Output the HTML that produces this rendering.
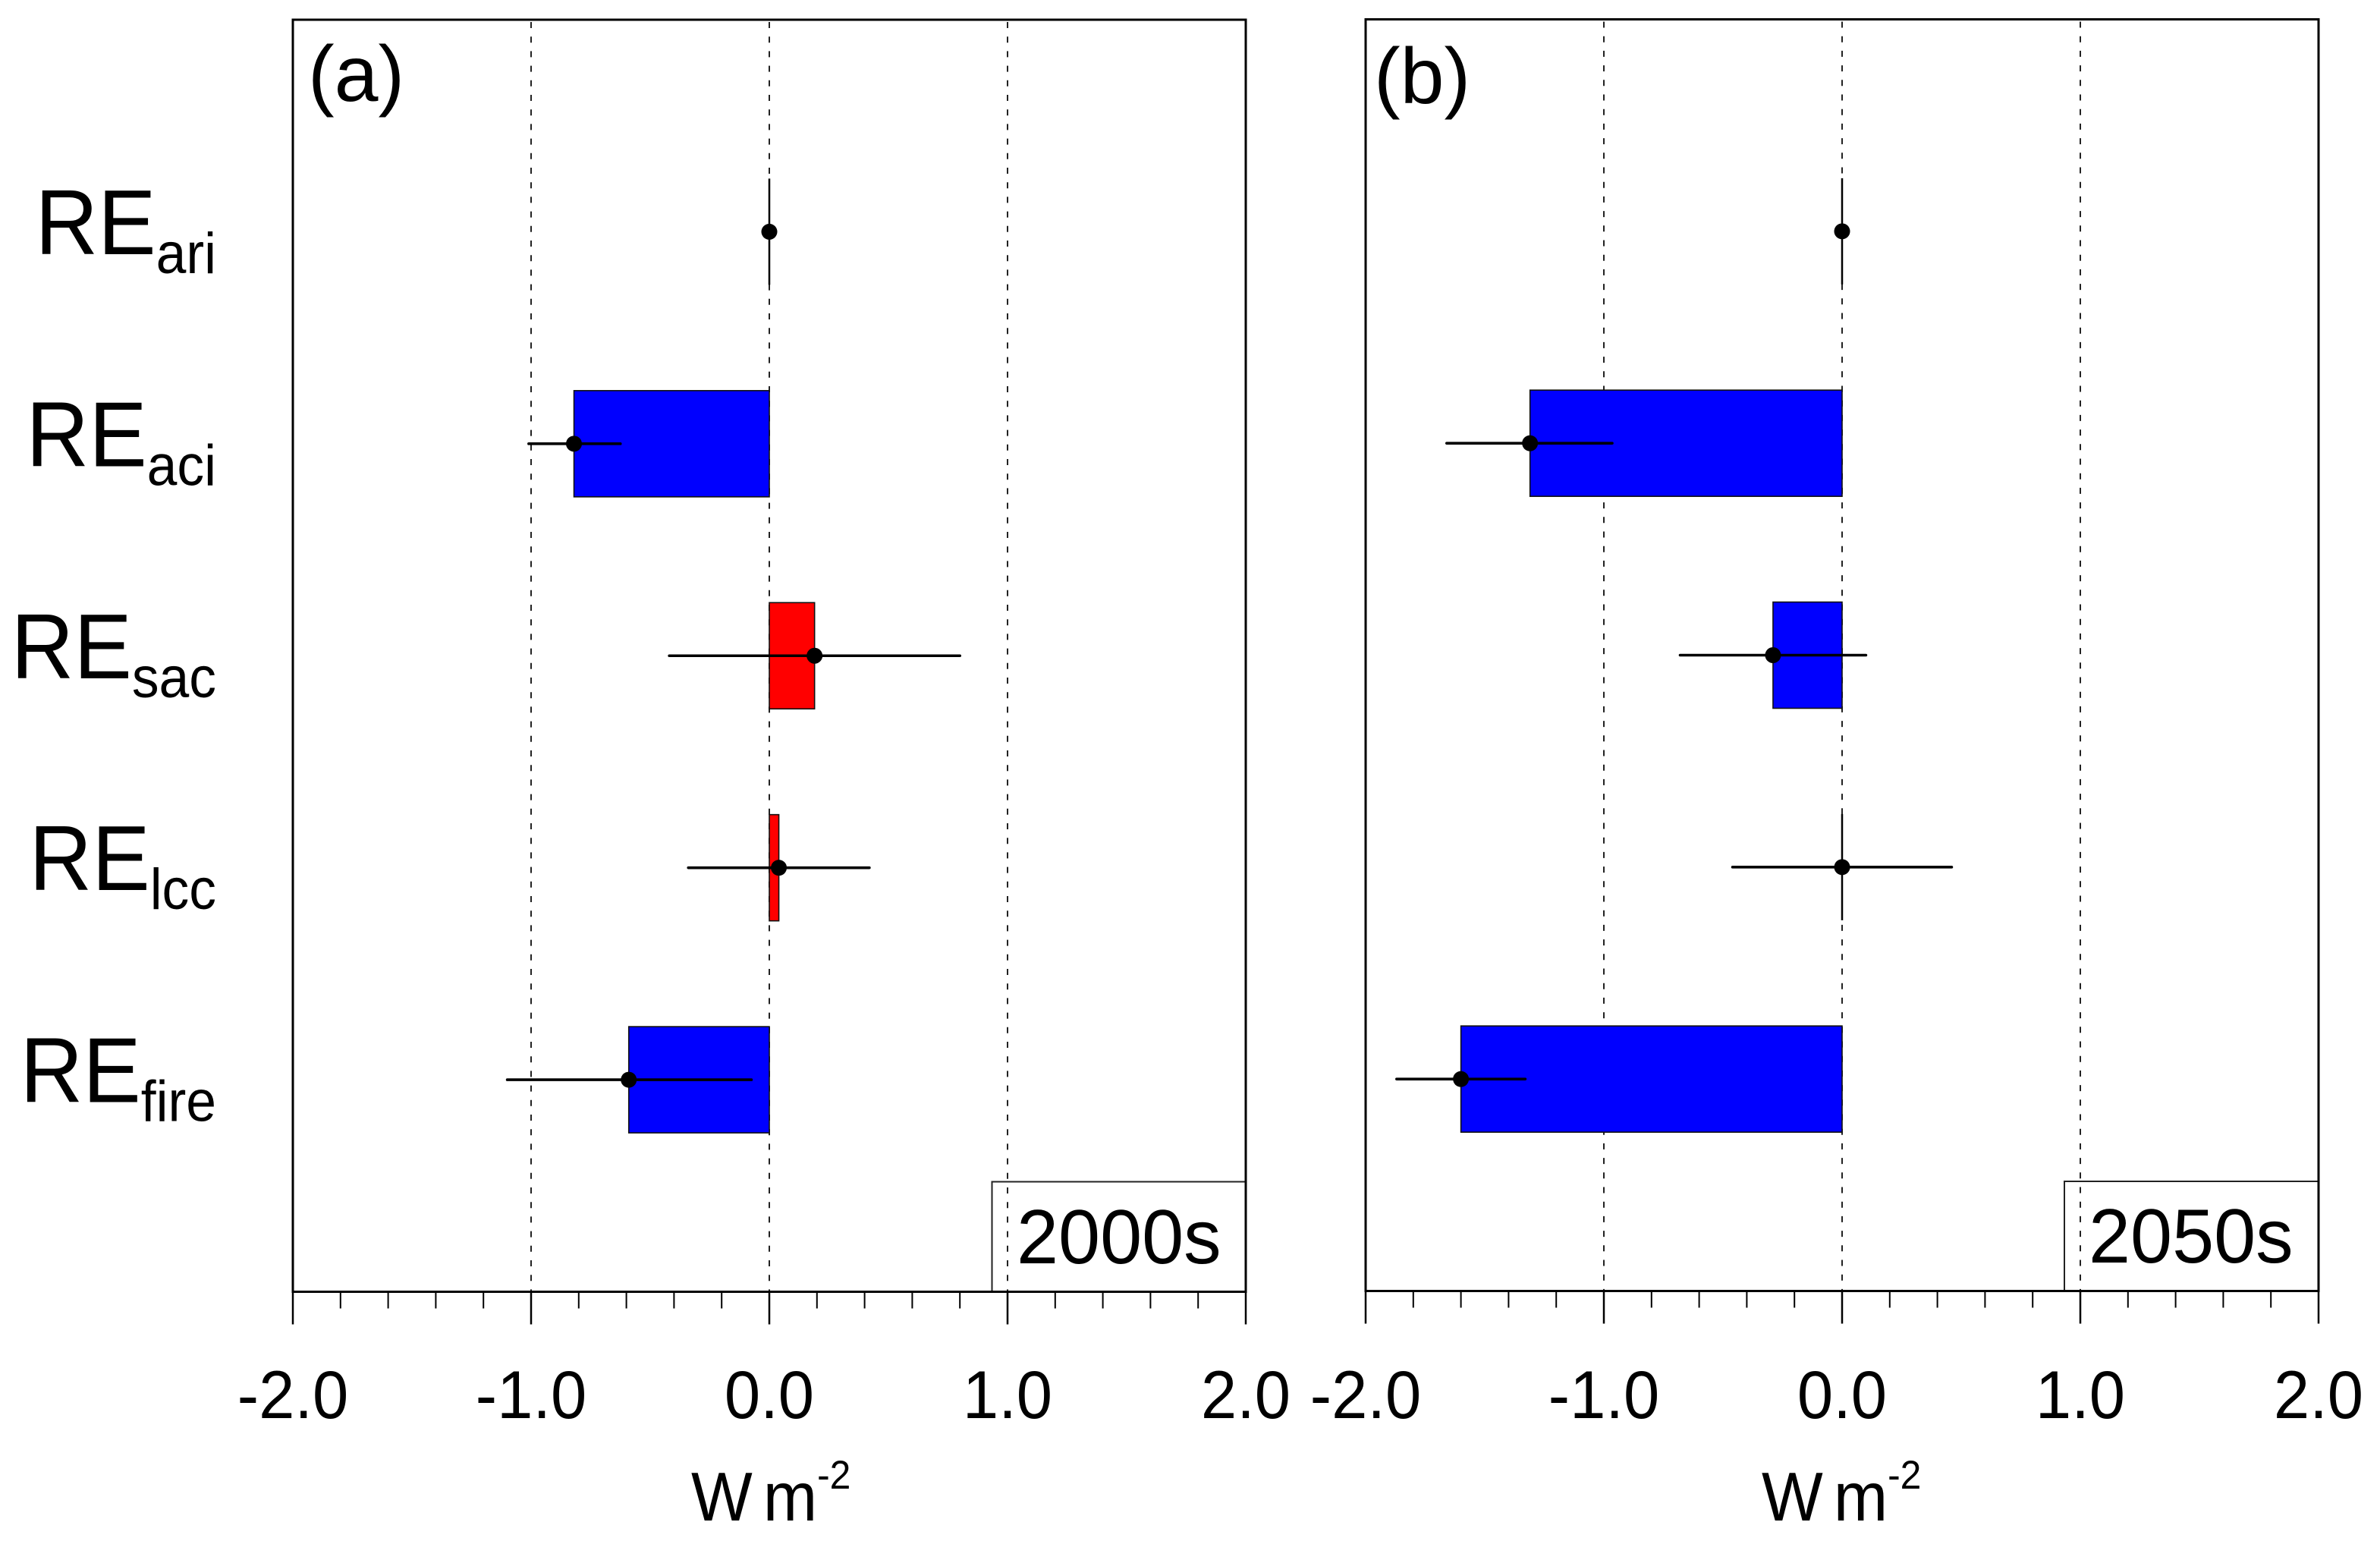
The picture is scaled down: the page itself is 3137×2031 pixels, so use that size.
<!DOCTYPE html>
<html lang="en">
<head>
<meta charset="utf-8">
<title>Radiative effects, 2000s and 2050s</title>
<style>
html,body{margin:0;padding:0;background:#fff;}
svg{display:block;}
text{font-family:"Liberation Sans",sans-serif;fill:#000;}
</style>
</head>
<body>
<svg id="chart" xmlns="http://www.w3.org/2000/svg" width="3137" height="2031" viewBox="0 0 3137 2031">
<rect x="0" y="0" width="3137" height="2031" fill="#fff"/>
<text x="406" y="133" font-size="104">(a)</text>
<text x="1811" y="136" font-size="104">(b)</text>
<text transform="translate(1340,1665) scale(0.98,1)" font-size="101">2000s</text>
<text transform="translate(2753,1664) scale(0.98,1)" font-size="101">2050s</text>
<text transform="translate(911,2004) scale(0.94,1)" font-size="91">W<tspan dx="15">m</tspan><tspan font-size="53" dy="-42">-2</tspan></text>
<text transform="translate(2322,2004) scale(0.94,1)" font-size="91">W<tspan dx="15">m</tspan><tspan font-size="53" dy="-42">-2</tspan></text>
</svg>
<script>
const categories = ["ari", "aci", "sac", "lcc", "fire"];
const tickLabels = ["-2.0", "-1.0", "0.0", "1.0", "2.0"];
const tickValues = [-2, -1, 0, 1, 2];
const minorTickValues = [-1.8, -1.6, -1.4, -1.2, -0.8, -0.6, -0.4, -0.2, 0.2, 0.4, 0.6, 0.8, 1.2, 1.4, 1.6, 1.8];
const gridValues = [-1, 0, 1];

const values2000s = [0, -0.82, 0.19, 0.04, -0.59];
const errorLow2000s = [0, -1.01, -0.42, -0.34, -1.10];
const errorHigh2000s = [0, -0.625, 0.80, 0.42, -0.075];

const values2050s = [0, -1.31, -0.29, 0, -1.60];
const errorLow2050s = [0, -1.66, -0.68, -0.46, -1.87];
const errorHigh2050s = [0, -0.965, 0.10, 0.46, -1.33];

const svg = document.getElementById("chart");
const NS = "http://www.w3.org/2000/svg";

function make(tag, parent) {
  const el = document.createElementNS(NS, tag);
  parent.appendChild(el);
  return el;
}

function line(parent, x1, y1, x2, y2, width, color) {
  const el = make("line", parent);
  el.setAttribute("x1", x1);
  el.setAttribute("y1", y1);
  el.setAttribute("x2", x2);
  el.setAttribute("y2", y2);
  el.setAttribute("stroke", color);
  el.setAttribute("stroke-width", width);
  return el;
}

function drawPanel(id, left, right, top, bottom, legendLeft, legendTop, vals, low, high, showCategories) {
  const group = make("g", svg);
  
  

  const xScale = v => left + (v + 2) * (right - left) / 4;
  const yScale = i => top + (i + 1) * (bottom - top) / 6;
  const barHalf = 70;

  gridValues.forEach(v => {
    const g = line(group, xScale(v), top + 3, xScale(v), bottom, 2, "#222");
    g.setAttribute("stroke-dasharray", "8 11.2");
    
    
  });

  vals.forEach((v, i) => {
    const x0 = Math.min(xScale(0), xScale(v));
    const x1 = Math.max(xScale(0), xScale(v));
    if (v === 0) {
      const zero = line(group, x0, yScale(i) - barHalf, x0, yScale(i) + barHalf, 2.5, "#000");
      
      
    } else {
      const bar = make("rect", group);
      bar.setAttribute("x", x0);
      bar.setAttribute("y", yScale(i) - barHalf);
      bar.setAttribute("width", x1 - x0);
      bar.setAttribute("height", 2 * barHalf);
      bar.setAttribute("fill", v < 0 ? "#0000ff" : "#ff0000");
      bar.setAttribute("stroke", "#111");
      bar.setAttribute("stroke-width", 1.6);
      
      
    }
  });

  vals.forEach((v, i) => {
    if (low[i] !== high[i]) {
      const err = line(group, xScale(low[i]), yScale(i), xScale(high[i]), yScale(i), 3.6, "#000");
      err.setAttribute("stroke-linecap", "round");
      
      
    }
    const dot = make("circle", group);
    dot.setAttribute("cx", xScale(v));
    dot.setAttribute("cy", yScale(i));
    dot.setAttribute("r", 10.5);
    dot.setAttribute("fill", "#000");
    
    
  });

  const legend = make("path", group);
  legend.setAttribute("d", "M" + legendLeft + " " + bottom + "V" + legendTop + "H" + right);
  legend.setAttribute("fill", "none");
  legend.setAttribute("stroke", "#222");
  legend.setAttribute("stroke-width", 2);
  
  

  const frame = make("rect", group);
  frame.setAttribute("x", left);
  frame.setAttribute("y", top);
  frame.setAttribute("width", right - left);
  frame.setAttribute("height", bottom - top);
  frame.setAttribute("fill", "none");
  frame.setAttribute("stroke", "#000");
  frame.setAttribute("stroke-width", 3);
  
  

  minorTickValues.forEach(v => {
    const t = line(group, xScale(v), bottom, xScale(v), bottom + 22, 2, "#000");
    
    
  });

  tickValues.forEach((v, i) => {
    const t = line(group, xScale(v), bottom, xScale(v), bottom + 43, 2.5, "#000");
    
    
    const label = make("text", group);
    label.setAttribute("transform", "translate(" + xScale(v) + ",1869) scale(0.955,1)");
    label.setAttribute("text-anchor", "middle");
    label.setAttribute("font-size", 89);
    label.textContent = tickLabels[i];
    
    
  });

  if (showCategories) {
    categories.forEach((c, i) => {
      const label = make("text", group);
      label.setAttribute("transform", "translate(285," + (yScale(i) + 29.5) + ") scale(0.94,1)");
      label.setAttribute("text-anchor", "end");
      label.setAttribute("font-size", 122);
      
      
      const main = make("tspan", label);
      main.textContent = "RE";
      const sub = make("tspan", label);
      sub.setAttribute("font-size", 76);
      sub.setAttribute("dy", 25);
      sub.textContent = c;
    });
  }
}

drawPanel("panel-a", 386, 1642, 26, 1702.5, 1307.5, 1557.5, values2000s, errorLow2000s, errorHigh2000s, true);
drawPanel("panel-b", 1800, 3056, 25.5, 1701.5, 2721, 1557, values2050s, errorLow2050s, errorHigh2050s, false);
</script>
</body>
</html>
